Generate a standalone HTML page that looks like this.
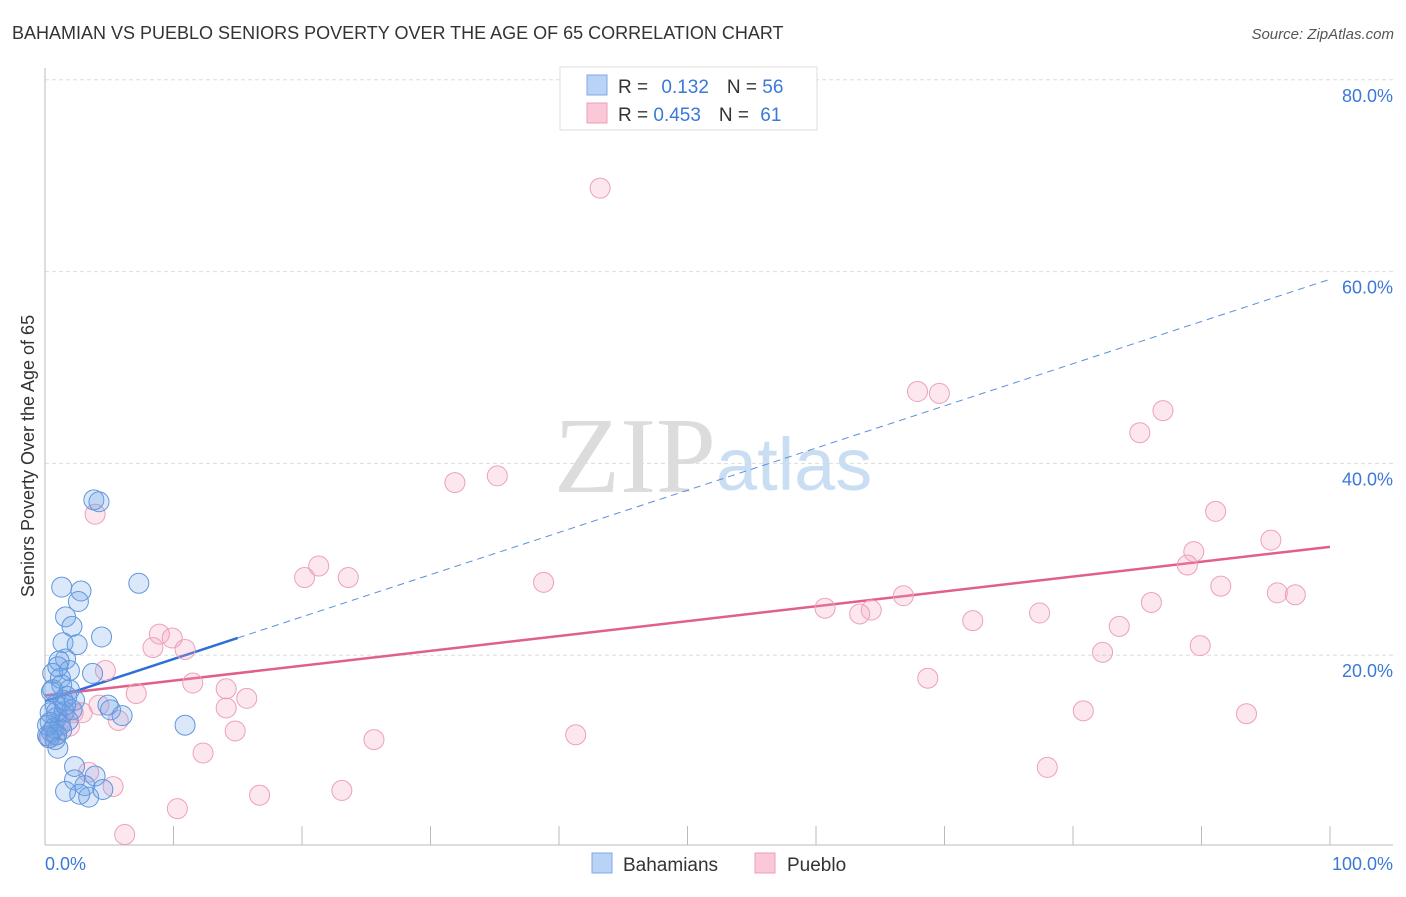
<!DOCTYPE html>
<html><head><meta charset="utf-8"><style>
body{margin:0;background:#fff;font-family:"Liberation Sans",sans-serif}
</style></head><body>
<svg id="c" width="1406" height="892" xmlns="http://www.w3.org/2000/svg">
<text x="12" y="39" font-size="18" fill="#333">BAHAMIAN VS PUEBLO SENIORS POVERTY OVER THE AGE OF 65 CORRELATION CHART</text>
<text x="1394" y="39" font-size="15" fill="#555" font-style="italic" text-anchor="end">Source: ZipAtlas.com</text>
<text x="716" y="492" font-size="108" fill="#dcdcdc" text-anchor="end" font-family="Liberation Serif,serif">ZIP</text>
<text x="716" y="490" font-size="74" fill="#cadef3">atlas</text>
<g id="grid"></g><g id="axes"></g><g id="trend"></g><g id="pts"></g>
<text transform="translate(34,456) rotate(-90)" font-size="18" fill="#333" text-anchor="middle">Seniors Poverty Over the Age of 65</text>
<text x="45" y="870" font-size="18" fill="#3b78d8">0.0%</text>
<text x="1393" y="870" font-size="18" fill="#3b78d8" text-anchor="end">100.0%</text>
<g>
<rect x="560" y="67" width="257" height="63" fill="#fff" stroke="#ddd"/>
<rect x="587" y="75" width="20" height="20" fill="#b8d3f5" stroke="#7eaae6"/>
<rect x="587" y="103" width="20" height="20" fill="#fac8d6" stroke="#ee9fb8"/>
<text x="618" y="93" font-size="19" fill="#333">R = <tspan fill="#3b78d8" dx="8">0.132</tspan><tspan dx="18" fill="#333">N = </tspan><tspan fill="#3b78d8">56</tspan></text>
<text x="618" y="121" font-size="19" fill="#333">R = <tspan fill="#3b78d8">0.453</tspan><tspan dx="18" fill="#333">N = </tspan><tspan fill="#3b78d8" dx="6">61</tspan></text>
</g>
<g>
<rect x="592" y="853" width="20" height="20" fill="#b8d3f5" stroke="#7eaae6"/>
<text x="623" y="871" font-size="19" fill="#333">Bahamians</text>
<rect x="755" y="853" width="20" height="20" fill="#fac8d6" stroke="#ee9fb8"/>
<text x="787" y="871" font-size="19" fill="#333">Pueblo</text>
</g>
</svg>
<script>
const yTicks=[20,40,60,80];
const yTickLabels=["20.0%","40.0%","60.0%","80.0%"];
const xTicks=[10,20,30,40,50,60,70,80,90,100];
const blueX=[3.8,4.2,1.3,2.8,7.3,2.6,1.6,2.1,4.4,1.4,2.5,1.6,1.1,0.6,1.9,3.7,1.2,1.3,0.5,1.9,1.7,1.4,0.8,4.9,5.1,6.0,0.9,0.4,1.2,0.7,0.5,0.2,0.8,10.9,2.3,3.9,2.3,3.1,1.6,2.7,3.4,4.5,0.9,1.5,0.4,1.8,1.3,0.9,0.3,2.1,1.0,1.6,2.3,0.6,1.0,0.2];
const blueY=[36.2,36.0,27.1,26.7,27.5,25.6,24.0,23.0,21.9,21.3,21.1,19.6,19.4,18.1,18.4,18.1,17.6,16.9,16.2,16.4,15.7,15.3,14.8,14.8,14.3,13.7,13.5,13.0,12.7,12.4,12.0,11.6,11.2,12.7,8.4,7.4,7.0,6.4,5.8,5.5,5.2,6.0,14.1,14.1,14.0,13.2,12.2,11.7,11.4,14.3,10.3,14.8,15.3,16.4,18.8,12.7];
const pinkX=[43.2,67.9,69.6,87.0,85.2,31.9,35.2,3.9,91.1,95.4,89.4,88.9,20.2,21.3,23.6,38.8,91.5,95.9,97.3,66.8,86.1,60.7,63.4,64.3,77.4,72.2,83.6,8.9,9.9,8.4,10.9,82.3,89.9,4.7,68.7,11.5,14.1,7.1,15.7,4.2,14.1,2.2,2.9,5.7,1.9,14.8,80.8,93.5,41.3,25.6,12.3,78.0,3.4,5.3,16.7,23.1,10.3,6.2,0.8,1.2,0.4];
const pinkY=[68.7,47.5,47.3,45.5,43.2,38.0,38.7,34.7,35.0,32.0,30.8,29.4,28.1,29.3,28.1,27.6,27.2,26.5,26.3,26.2,25.5,24.9,24.3,24.7,24.4,23.6,23.0,22.2,21.8,20.8,20.6,20.3,21.0,18.4,17.6,17.1,16.5,16.0,15.5,14.8,14.5,14.0,14.0,13.2,12.6,12.1,14.2,13.9,11.7,11.2,9.8,8.3,7.8,6.3,5.4,5.9,4.0,1.3,11.7,13.2,11.4];
const blueTrend=[15.2,59.2];
const pinkTrend=[15.8,31.3];
const NS="http://www.w3.org/2000/svg";
const X=v=>45+v*12.85, Y=v=>847-v*9.59;
function mk(t,a,p){const e=document.createElementNS(NS,t);for(const k in a)e.setAttribute(k,a[k]);document.getElementById(p).appendChild(e);return e;}
yTicks.forEach((t,i)=>{
 const l=mk('line',{x1:45,x2:1393,y1:Y(t),y2:Y(t),stroke:'#ddd','stroke-dasharray':'4,3'},'grid');
 
 
 const tx=mk('text',{x:1393,y:Y(t)+22,'font-size':18,fill:'#3b78d8','text-anchor':'end'},'grid');
 tx.textContent=yTickLabels[i];
 
 
});
let a=mk('line',{x1:45,x2:45,y1:68,y2:845,stroke:'#bbb'},'axes');


a=mk('line',{x1:45,x2:1393,y1:845,y2:845,stroke:'#bbb'},'axes');


xTicks.forEach(t=>{
 const l=mk('line',{x1:X(t),x2:X(t),y1:826,y2:845,stroke:'#bbb'},'axes');
 
 
});
let tl=mk('line',{x1:X(0),y1:Y(blueTrend[0]),x2:X(15),y2:Y(blueTrend[0]+(blueTrend[1]-blueTrend[0])*0.15),stroke:'#2f6fd6','stroke-width':2.5},'trend');


tl=mk('line',{x1:X(15),y1:Y(blueTrend[0]+(blueTrend[1]-blueTrend[0])*0.15),x2:X(100),y2:Y(blueTrend[1]),stroke:'#5b8fdc','stroke-width':1,'stroke-dasharray':'7,5'},'trend');


tl=mk('line',{x1:X(0),y1:Y(pinkTrend[0]),x2:X(100),y2:Y(pinkTrend[1]),stroke:'#e0608a','stroke-width':2.5},'trend');


pinkX.forEach((v,i)=>{
 const c=mk('circle',{cx:X(v),cy:Y(pinkY[i]),r:10,fill:'rgba(245,160,190,0.25)',stroke:'#eda0b9','stroke-width':1},'pts');
 
 
});
blueX.forEach((v,i)=>{
 const c=mk('circle',{cx:X(v),cy:Y(blueY[i]),r:10,fill:'rgba(110,165,230,0.25)',stroke:'#5f96dd','stroke-width':1},'pts');
 
 
});
</script>
</body></html>
